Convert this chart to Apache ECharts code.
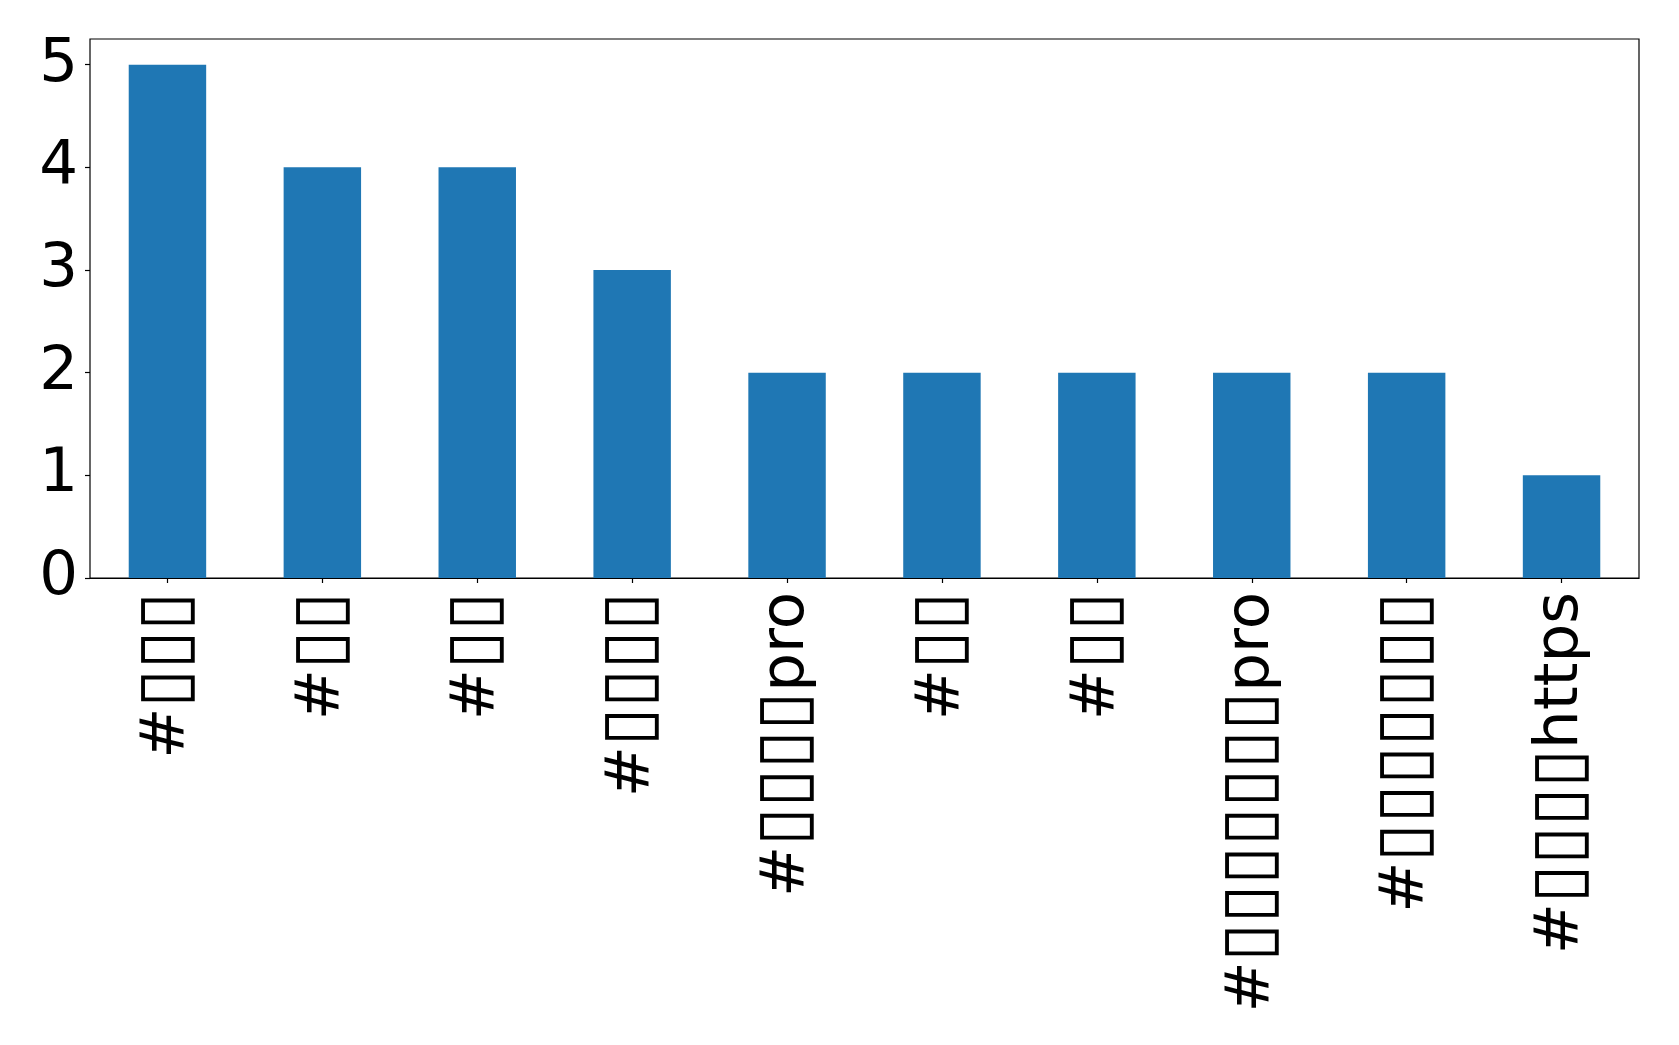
<!DOCTYPE html>
<html>
<head>
<meta charset="utf-8">
<script src="https://cdn.jsdelivr.net/npm/echarts@6/dist/echarts.min.js"></script>
<style>
html,body{margin:0;padding:0;background:#fff;}
#chart{width:1679px;height:1045px;}
</style>
</head>
<body>
<div id="chart"></div>
<script>
// Missing-glyph boxes in the reference are shown as U+25AF
const B = '\u25AF';
const categories = [
  '#' + B + B + B,
  '#' + B + B,
  '#' + B + B,
  '#' + B + B + B + B,
  '#' + B + B + B + B + 'pro',
  '#' + B + B,
  '#' + B + B,
  '#' + B + B + B + B + B + B + B + 'pro',
  '#' + B + B + B + B + B + B + B,
  '#' + B + B + B + B + 'https'
];
const values = [5, 4, 4, 3, 2, 2, 2, 2, 2, 1];
const yTicks = [0, 1, 2, 3, 4, 5];

function richLabel(s) {
  // wrap runs of box characters in a rich style so they render like tofu boxes
  return s.replace(/(\u25AF+)/g, '{b|$1}');
}

const chart = echarts.init(document.getElementById('chart'));
const font = '"DejaVu Sans", sans-serif';
chart.setOption({
  animation: false,
  backgroundColor: '#ffffff',
  grid: {
    left: 90, right: 40, top: 39, bottom: 467,
    show: true, borderColor: '#000000', borderWidth: 1.2, backgroundColor: 'transparent'
  },
  xAxis: {
    type: 'category',
    data: categories,
    boundaryGap: true,
    axisLine: { show: true, lineStyle: { color: '#000', width: 1.2 } },
    axisTick: { show: true, alignWithLabel: true, length: 5, lineStyle: { color: '#000', width: 1.2 } },
    axisLabel: {
      rotate: 90, interval: 0, margin: 14,
      color: '#000', fontSize: 61, fontFamily: font,
      formatter: richLabel,
      rich: {
        b: { fontSize: 70, fontFamily: font, color: '#000' }
      }
    },
    splitLine: { show: false }
  },
  yAxis: {
    type: 'value',
    min: 0, max: 5.25, interval: 1,
    axisLine: { show: false },
    axisTick: { show: true, length: 5, lineStyle: { color: '#000', width: 1.2 } },
    axisLabel: {
      margin: 12, color: '#000', fontSize: 61, fontFamily: font,
      padding: [6, 0, 0, 0],
      showMaxLabel: false,
      formatter: function (v) { return yTicks.indexOf(v) >= 0 ? String(v) : ''; }
    },
    splitLine: { show: false }
  },
  series: [{
    type: 'bar',
    data: values,
    barWidth: '50%',
    itemStyle: { color: '#1f77b4' }
  }]
});
</script>
</body>
</html>
